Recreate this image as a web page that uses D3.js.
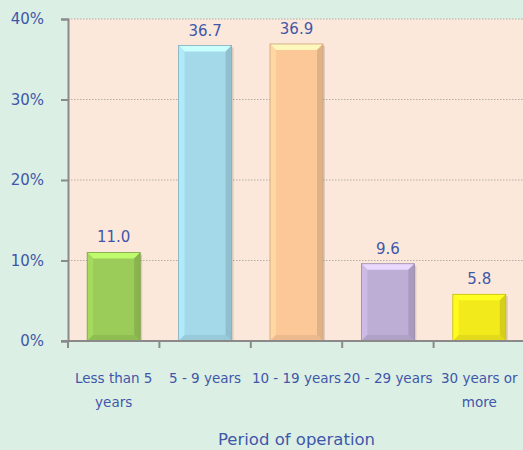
<!DOCTYPE html>
<html>
<head>
<meta charset="utf-8">
<script src="https://cdn.jsdelivr.net/npm/d3@7"></script>
<style>
  body { margin: 0; background: #dcefe4; }
  svg { display: block; font-family: "DejaVu Sans", "Noto Sans", sans-serif; }
</style>
</head>
<body>
<div id="chart"></div>
<script>
var categories = ["Less than 5|years", "5 - 9 years", "10 - 19 years", "20 - 29 years", "30 years or|more"];
var values = [11.0, 36.7, 36.9, 9.6, 5.8];
var barColors = ["#9bcb58", "#a3d9e9", "#fdc898", "#bdaed5", "#f3ea1c"];
var yTicks = [0, 10, 20, 30, 40];

var W = 523, H = 450,
    margin = {top: 19, right: -2, bottom: 109, left: 68},
    width = W - margin.left - margin.right,
    height = H - margin.top - margin.bottom,
    textColor = "#3f57aa";

var svg = d3.select("#chart").append("svg")
    .attr("width", W)
    .attr("height", H);

svg.append("rect")
    .attr("width", W).attr("height", H)
    .attr("fill", "#dcefe4");

var g = svg.append("g")
    .attr("transform", "translate(" + margin.left + "," + margin.top + ")");

var x = d3.scaleBand()
    .domain(categories)
    .range([0, width])
    .paddingInner(0.42)
    .paddingOuter(0.21);

var y = d3.scaleLinear()
    .domain([0, 40])
    .range([height, 0]);

// plot area
g.append("rect")
    .attr("width", width).attr("height", height)
    .attr("fill", "#fce8da");

// grid lines
g.selectAll(".grid")
    .data(yTicks.filter(function(d){ return d > 0; }))
    .enter().append("line")
    .attr("x1", 0).attr("x2", width)
    .attr("y1", function(d){ return y(d); })
    .attr("y2", function(d){ return y(d); })
    .attr("stroke", "#b4aca6")
    .attr("stroke-width", 1)
    .attr("stroke-dasharray", "1.5,1.5");

// bars with a bevel look
var bev = 6;
var bars = g.selectAll(".bar")
    .data(values)
    .enter().append("g")
    .attr("class", "bar");

bars.each(function(d, i) {
    var el = d3.select(this),
        x0 = x(categories[i]), bw = x.bandwidth(),
        y0 = y(d), bh = height - y(d),
        c = d3.color(barColors[i]);

    // soft shadow
    el.append("rect")
        .attr("x", x0 + 2).attr("y", y0 + 2)
        .attr("width", bw).attr("height", bh - 2)
        .attr("fill", "#000").attr("opacity", 0.12);

    el.append("rect")
        .attr("x", x0).attr("y", y0)
        .attr("width", bw).attr("height", bh)
        .attr("fill", c.formatHex());

    var x1 = x0 + bw, y1 = y0 + bh;
    // top facet
    el.append("polygon")
        .attr("points", [[x0, y0], [x1, y0], [x1 - bev, y0 + bev], [x0 + bev, y0 + bev]].join(" "))
        .attr("fill", c.brighter(0.6).formatHex());
    // left facet
    el.append("polygon")
        .attr("points", [[x0, y0], [x0 + bev, y0 + bev], [x0 + bev, y1 - bev], [x0, y1]].join(" "))
        .attr("fill", c.brighter(0.2).formatHex());
    // right facet
    el.append("polygon")
        .attr("points", [[x1, y0], [x1, y1], [x1 - bev, y1 - bev], [x1 - bev, y0 + bev]].join(" "))
        .attr("fill", c.darker(0.35).formatHex());
    // bottom facet
    el.append("polygon")
        .attr("points", [[x0, y1], [x1, y1], [x1 - bev, y1 - bev], [x0 + bev, y1 - bev]].join(" "))
        .attr("fill", c.darker(0.2).formatHex());
    el.append("rect")
        .attr("x", x0).attr("y", y0)
        .attr("width", bw).attr("height", bh)
        .attr("fill", "none")
        .attr("stroke", c.darker(0.6).formatHex())
        .attr("stroke-width", 0.8);
});

// value labels
g.selectAll(".val")
    .data(values)
    .enter().append("text")
    .attr("x", function(d, i){ return x(categories[i]) + x.bandwidth() / 2; })
    .attr("y", function(d){ return y(d) - 10; })
    .attr("text-anchor", "middle")
    .attr("font-size", 15)
    .attr("fill", textColor)
    .text(function(d){ return d.toFixed(1); });

// y axis
var yAxis = g.append("g")
    .call(d3.axisLeft(y).tickValues(yTicks).tickSize(7).tickPadding(17)
        .tickFormat(function(d){ return d + "%"; }));
yAxis.select(".domain").attr("stroke", "#8a8a8a").attr("stroke-width", 2);
yAxis.selectAll(".tick line").attr("stroke", "#8a8a8a").attr("stroke-width", 2);
yAxis.selectAll(".tick text")
    .attr("font-size", 15)
    .attr("font-family", "DejaVu Sans, sans-serif")
    .attr("fill", textColor);

// x axis
var xAxis = g.append("g")
    .attr("transform", "translate(0," + height + ")");
xAxis.append("line")
    .attr("x1", -7).attr("x2", width)
    .attr("stroke", "#8a8a8a").attr("stroke-width", 2);
xAxis.selectAll(".xt")
    .data(d3.range(categories.length + 1))
    .enter().append("line")
    .attr("x1", function(d){ return d * width / categories.length; })
    .attr("x2", function(d){ return d * width / categories.length; })
    .attr("y1", 0).attr("y2", 7)
    .attr("stroke", "#8a8a8a").attr("stroke-width", 2);

xAxis.selectAll(".xl")
    .data(categories)
    .enter().append("text")
    .attr("text-anchor", "middle")
    .attr("font-size", 13.5)
    .attr("fill", textColor)
    .attr("transform", function(d){ return "translate(" + (x(d) + x.bandwidth() / 2) + ",42)"; })
    .each(function(d) {
        var t = d3.select(this);
        d.split("|").forEach(function(line, k) {
            t.append("tspan").attr("x", 0).attr("dy", k === 0 ? 0 : 24).text(line);
        });
    });

// axis title
svg.append("text")
    .attr("x", margin.left + width / 2)
    .attr("y", 445)
    .attr("text-anchor", "middle")
    .attr("font-size", 16.5)
    .attr("fill", textColor)
    .text("Period of operation");
</script>
</body>
</html>
